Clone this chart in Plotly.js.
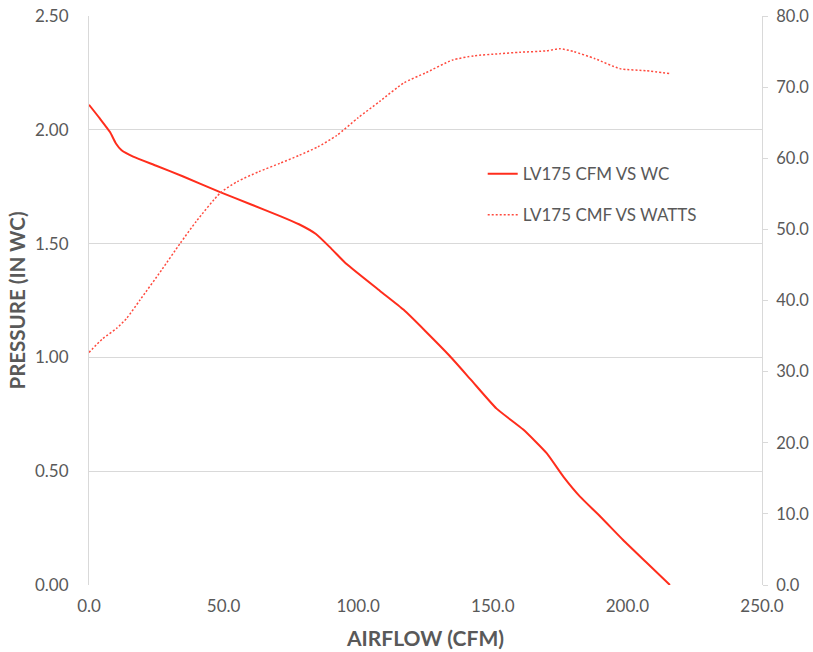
<!DOCTYPE html>
<html>
<head>
<meta charset="utf-8">
<script src="https://cdn.plot.ly/plotly-3.0.1.min.js"></script>
<style>body{margin:0;background:#fff;}#chart{width:813px;height:652px;}</style>
</head>
<body>
<div id="chart"></div>
<script>
// Pressure curve (left axis)
const airflowPressure = [0, 4, 7.8, 10, 12.1, 16.4, 25, 35, 48.7, 60, 71, 78, 84.3, 90, 95.7, 108.1, 116.8, 125, 134.1, 142, 151.4, 161.3, 170, 176.2, 182.4, 190, 198.4, 207, 215.8];
const pressure =        [2.11, 2.05, 1.99, 1.94, 1.91, 1.882, 1.842, 1.795, 1.726, 1.673, 1.621, 1.585, 1.542, 1.478, 1.41, 1.292, 1.21, 1.115, 1.005, 0.9, 0.775, 0.683, 0.579, 0.476, 0.388, 0.30, 0.198, 0.10, 0.0];
// Watts curve (right axis)
const airflowWatts = [0, 5, 10.3, 14, 19, 27, 33.8, 40, 48.7, 55, 63, 71, 78, 85, 92, 100, 108, 117, 125, 135, 143, 152.6, 160, 170, 175, 180, 188, 197.2, 207, 215.8];
const watts =        [32.7, 34.6, 36.1, 37.5, 40.1, 44.3, 48.0, 51.2, 55.1, 56.7, 58.1, 59.3, 60.4, 61.6, 63.2, 65.7, 68.0, 70.6, 72.0, 73.8, 74.4, 74.7, 74.9, 75.1, 75.4, 75.0, 74.0, 72.6, 72.3, 71.9];

const nameA = 'LV175 CFM VS WC';
const nameB = 'LV175 CMF VS WATTS';

const fontFam = 'Lato, "Open Sans", sans-serif';
const gray = '#595959';

const traces = [
  {x: airflowPressure, y: pressure, name: nameA, type: 'scatter', mode: 'lines',
   line: {color: '#ff2d1c', width: 2, shape: 'spline', smoothing: 0.5}, legend: 'legend'},
  {x: airflowWatts, y: watts, name: nameB, type: 'scatter', mode: 'lines', yaxis: 'y2',
   line: {color: '#ff4a3e', width: 1.5, dash: '2px,2px', shape: 'spline', smoothing: 0.6}, legend: 'legend2'}
];

const layout = {
  width: 813, height: 652,
  margin: {l: 89, r: 51, t: 16, b: 67},
  paper_bgcolor: '#fff', plot_bgcolor: '#fff',
  font: {family: fontFam, color: gray, size: 17},
  showlegend: true,
  xaxis: {
    range: [0, 250], tickvals: [0, 50, 100, 150, 200, 250], tickformat: '.1f',
    showgrid: false, zeroline: false, showline: false,
    ticks: '', ticklabelstandoff: 9,
    tickfont: {family: fontFam, color: gray, size: 17},
    title: {text: 'AIRFLOW (CFM)', font: {family: fontFam, color: gray, size: 21, weight: 'bold'}, standoff: 16}
  },
  yaxis: {
    range: [0, 2.5], tickvals: [0, 0.5, 1, 1.5, 2, 2.5], tickformat: '.2f',
    showgrid: true, gridcolor: '#d9d9d9', gridwidth: 1, zeroline: false,
    showline: true, linecolor: '#d9d9d9', linewidth: 1, mirror: false,
    ticks: '', ticklabelstandoff: 16,
    tickfont: {family: fontFam, color: gray, size: 17},
    title: {text: 'PRESSURE (IN WC)', font: {family: fontFam, color: gray, size: 20.5, weight: 'bold'}, standoff: 3}
  },
  yaxis2: {
    overlaying: 'y', side: 'right',
    range: [0, 80], tickvals: [0, 10, 20, 30, 40, 50, 60, 70, 80], tickformat: '.1f',
    showgrid: false, zeroline: false,
    showline: true, linecolor: '#d9d9d9', linewidth: 1,
    ticks: 'outside', ticklen: 5, tickcolor: '#d9d9d9', ticklabelstandoff: 5,
    tickfont: {family: fontFam, color: gray, size: 16.5}
  },
  legend: {x: 0.585, y: 0.722, xanchor: 'left', yanchor: 'middle', bgcolor: 'rgba(0,0,0,0)',
           font: {family: fontFam, color: gray, size: 17}},
  legend2: {x: 0.585, y: 0.650, xanchor: 'left', yanchor: 'middle', bgcolor: 'rgba(0,0,0,0)',
           font: {family: fontFam, color: gray, size: 17}}
};

Plotly.newPlot('chart', traces, layout, {displayModeBar: false, staticPlot: true});
</script>
</body>
</html>
